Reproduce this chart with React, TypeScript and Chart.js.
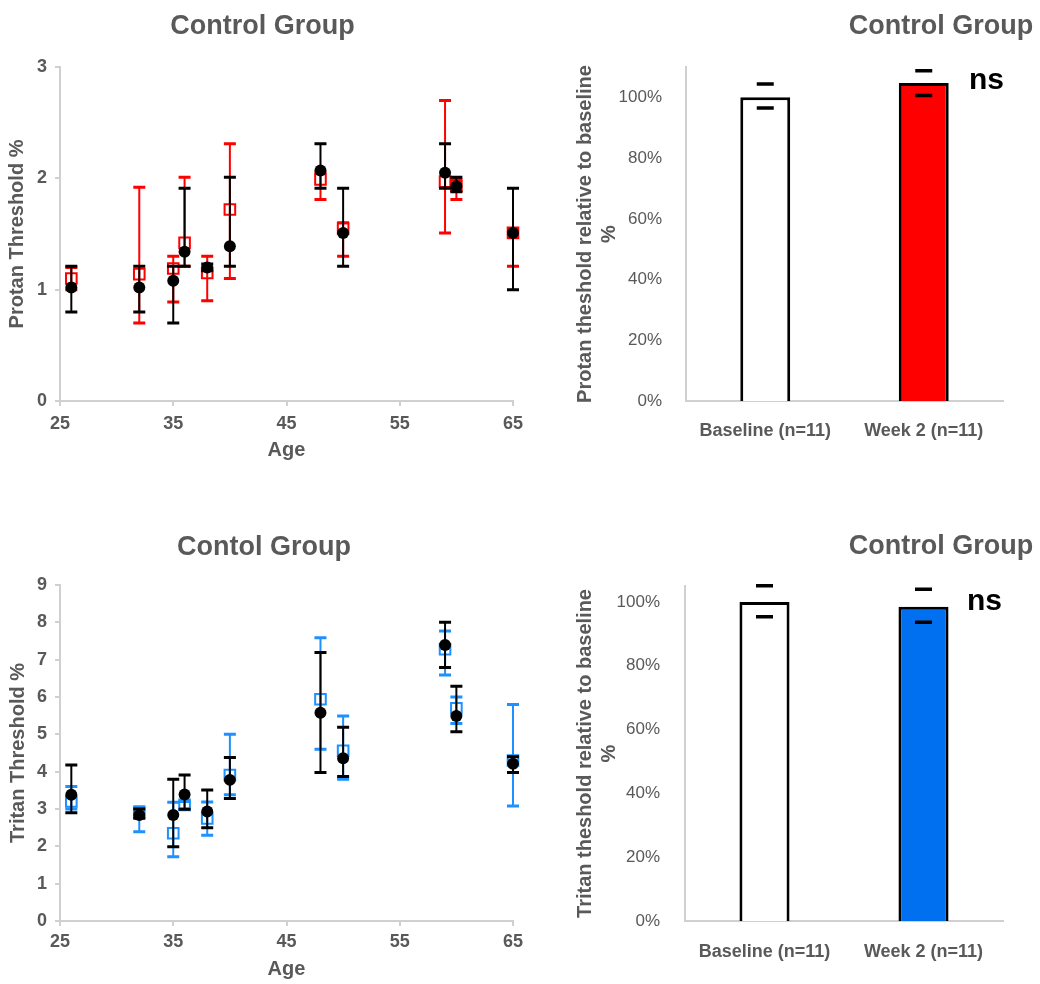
import React, { useEffect, useLayoutEffect, useRef } from 'react';
import { Chart, registerables } from 'chart.js';

Chart.register(...registerables);

const FONT = '"Liberation Sans", Arial, Helvetica, sans-serif';
const GRAY = '#595959';
const AXIS = '#D0D0D0';

// ---------- data ----------
const ages = [26, 32, 35, 36, 38, 40, 48, 50, 59, 60, 65];
const xTicks = [25, 35, 45, 55, 65];

const protanBaseline = [1.02, 1.02, 1.08, 1.34, 1.2, 1.39, 2.07, 1.51, 2.05, 1.93, 1.51];
const protanBaselineLow = [0.8, 0.8, 0.7, 1.21, 1.17, 1.21, 1.91, 1.21, 1.91, 1.88, 1.0];
const protanBaselineHigh = [1.21, 1.21, 1.21, 1.91, 1.23, 2.01, 2.31, 1.91, 2.31, 2.01, 1.91];
const protanWeek2 = [1.1, 1.14, 1.19, 1.42, 1.15, 1.72, 1.99, 1.55, 1.97, 1.93, 1.51];
const protanWeek2Low = [1.0, 0.7, 0.89, 1.21, 0.9, 1.1, 1.81, 1.3, 1.51, 1.81, 1.21];
const protanWeek2High = [1.2, 1.92, 1.3, 2.01, 1.3, 2.31, 2.05, 1.6, 2.7, 1.99, 1.55];
const protanYTicks = [0, 1, 2, 3];

const tritanBaseline = [3.38, 2.84, 2.84, 3.39, 2.93, 3.78, 5.58, 4.36, 7.39, 5.49, 4.21];
const tritanBaselineLow = [2.9, 2.75, 1.99, 2.99, 2.5, 3.28, 3.98, 3.87, 6.79, 5.07, 3.98];
const tritanBaselineHigh = [4.18, 3.0, 3.8, 3.91, 3.51, 4.38, 7.19, 5.19, 8.0, 6.29, 4.4];
const tritanWeek2 = [3.2, 2.9, 2.35, 3.11, 2.75, 3.91, 5.94, 4.56, 7.28, 5.7, 4.3];
const tritanWeek2Low = [3.0, 2.39, 1.72, 3.0, 2.3, 3.38, 4.6, 3.8, 6.59, 5.29, 3.08];
const tritanWeek2High = [3.6, 3.06, 3.18, 3.2, 3.19, 5.0, 7.59, 5.49, 7.77, 6.0, 5.8];
const tritanYTicks = [0, 1, 2, 3, 4, 5, 6, 7, 8, 9];

const barCategories = ['Baseline (n=11)', 'Week 2 (n=11)'];
const barYTicks = [0, 20, 40, 60, 80, 100];
const protanBars = [100, 104.7];
const protanBarsLow = [96.5, 100.6];
const protanBarsHigh = [104.4, 108.8];
const tritanBars = [100, 98.5];
const tritanBarsLow = [95.4, 93.6];
const tritanBarsHigh = [105.1, 104.0];

// ---------- plugins ----------
function drawErrors(chart: any, index: number) {
  const ds: any = chart.data.datasets[index];
  if (!ds.errLow || !ds.errHigh) return;
  const meta = chart.getDatasetMeta(index);
  const yScale = chart.scales[meta.yAxisID];
  const ctx = chart.ctx;
  ctx.save();
  ctx.strokeStyle = ds.errColor;
  ctx.lineCap = 'butt';
  meta.data.forEach((el: any, i: number) => {
    const x = el.x;
    const yl = yScale.getPixelForValue(ds.errLow[i]);
    const yh = yScale.getPixelForValue(ds.errHigh[i]);
    const half = ds.errCapWidth / 2;
    if (ds.errStem) {
      ctx.lineWidth = ds.errStemWidth;
      ctx.beginPath();
      ctx.moveTo(x, yl);
      ctx.lineTo(x, yh);
      ctx.stroke();
    }
    ctx.lineWidth = ds.errCapLine;
    ctx.beginPath();
    ctx.moveTo(x - half, yl);
    ctx.lineTo(x + half, yl);
    ctx.moveTo(x - half, yh);
    ctx.lineTo(x + half, yh);
    ctx.stroke();
  });
  ctx.restore();
}

const errorBarPlugin = {
  id: 'errorBars',
  beforeDatasetDraw(chart: any, args: any) {
    const ds: any = chart.data.datasets[args.index];
    if (!ds.errAfter) drawErrors(chart, args.index);
  },
  afterDatasetDraw(chart: any, args: any) {
    const ds: any = chart.data.datasets[args.index];
    if (ds.errAfter) drawErrors(chart, args.index);
  },
};

type TextItem = { text: string; x: number; y: number; font: string; color: string; align: CanvasTextAlign; baseline: CanvasTextBaseline };

function makeTextPlugin(items: TextItem[]) {
  return {
    id: 'panelText',
    afterDraw(chart: any) {
      const ctx = chart.ctx;
      ctx.save();
      items.forEach((it) => {
        ctx.font = it.font;
        ctx.fillStyle = it.color;
        ctx.textAlign = it.align;
        ctx.textBaseline = it.baseline;
        ctx.fillText(it.text, it.x, it.y);
      });
      ctx.restore();
    },
  };
}

const titleFont = `bold 27px ${FONT}`;
const nsFont = `bold 30px ${FONT}`;

// ---------- config builders ----------
function scatterConfig(opts: {
  title: string;
  titleX: number;
  titleY: number;
  yTitle: string;
  yMax: number;
  yTicks: number[];
  color: string;
  base: number[];
  baseLow: number[];
  baseHigh: number[];
  wk: number[];
  wkLow: number[];
  wkHigh: number[];
  padTop: number;
  xHeight: number;
  xTickPad: number;
  xTitlePad: number;
  yTitlePad: number;
}): any {
  return {
    type: 'scatter',
    data: {
      datasets: [
        {
          label: 'Baseline',
          data: ages.map((a, i) => ({ x: a, y: opts.base[i] })),
          pointStyle: 'circle',
          pointRadius: 6,
          pointHoverRadius: 6,
          backgroundColor: '#000000',
          borderColor: '#000000',
          borderWidth: 0,
          clip: false,
          errLow: opts.baseLow,
          errHigh: opts.baseHigh,
          errColor: '#000000',
          errCapWidth: 12,
          errCapLine: 3,
          errStemWidth: 2,
          errStem: true,
        },
        {
          label: 'Week 2',
          data: ages.map((a, i) => ({ x: a, y: opts.wk[i] })),
          pointStyle: 'rect',
          pointRadius: 7.5,
          pointHoverRadius: 7.5,
          backgroundColor: 'rgba(255,255,255,0)',
          borderColor: opts.color,
          borderWidth: 2,
          clip: false,
          errLow: opts.wkLow,
          errHigh: opts.wkHigh,
          errColor: opts.color,
          errCapWidth: 12,
          errCapLine: 3,
          errStemWidth: 2,
          errStem: true,
        },
      ],
    },
    options: {
      animation: false,
      responsive: false,
      events: [],
      layout: { padding: { top: opts.padTop, right: 27, bottom: 0, left: 0 } },
      plugins: { legend: { display: false }, tooltip: { enabled: false }, title: { display: false } },
      scales: {
        x: {
          type: 'linear',
          min: 25,
          max: 65,
          afterBuildTicks: (s: any) => {
            s.ticks = xTicks.map((v) => ({ value: v }));
          },
          afterFit: (s: any) => {
            s.height = opts.xHeight;
          },
          grid: { display: true, drawOnChartArea: false, drawTicks: true, tickLength: 5, color: AXIS, lineWidth: 2 },
          border: { display: true, color: AXIS, width: 2 },
          ticks: { color: GRAY, font: { family: FONT, size: 18, weight: 'bold' }, padding: opts.xTickPad, maxRotation: 0, autoSkip: false },
          title: { display: true, text: 'Age', color: GRAY, font: { family: FONT, size: 20, weight: 'bold' }, padding: { top: 0, bottom: opts.xTitlePad } },
        },
        y: {
          type: 'linear',
          min: 0,
          max: opts.yMax,
          afterBuildTicks: (s: any) => {
            s.ticks = opts.yTicks.map((v) => ({ value: v }));
          },
          afterFit: (s: any) => {
            s.width = 60;
          },
          grid: { display: true, drawOnChartArea: false, drawTicks: true, tickLength: 5, color: AXIS, lineWidth: 2 },
          border: { display: true, color: AXIS, width: 2 },
          ticks: { color: GRAY, font: { family: FONT, size: 18, weight: 'bold' }, padding: 8 },
          title: { display: true, text: opts.yTitle, color: GRAY, font: { family: FONT, size: 20, weight: 'bold' }, padding: { top: opts.yTitlePad, bottom: 0 } },
        },
      },
    },
    plugins: [
      errorBarPlugin,
      makeTextPlugin([
        { text: opts.title, x: opts.titleX, y: opts.titleY, font: titleFont, color: GRAY, align: 'center', baseline: 'middle' },
      ]),
    ],
  };
}

function barConfig(opts: {
  title: string;
  titleX: number;
  titleY: number;
  nsX: number;
  nsY: number;
  yTitle: string[];
  yMax: number;
  color: string;
  values: number[];
  low: number[];
  high: number[];
  padTop: number;
  yWidth: number;
  xHeight: number;
  xTickPad: number;
  yTickPad: number;
}): any {
  return {
    type: 'bar',
    data: {
      labels: barCategories,
      datasets: [
        {
          label: 'Relative threshold',
          data: opts.values,
          backgroundColor: ['#FFFFFF', opts.color],
          borderColor: '#000000',
          borderWidth: 3,
          borderSkipped: 'start',
          barPercentage: 0.315,
          categoryPercentage: 1,
          errLow: opts.low,
          errHigh: opts.high,
          errColor: '#000000',
          errCapWidth: 17,
          errCapLine: 3.5,
          errStem: false,
          errAfter: true,
        },
      ],
    },
    options: {
      animation: false,
      responsive: false,
      events: [],
      layout: { padding: { top: opts.padTop, right: 37, bottom: 0, left: 0 } },
      plugins: { legend: { display: false }, tooltip: { enabled: false }, title: { display: false } },
      scales: {
        x: {
          type: 'category',
          afterFit: (s: any) => {
            s.height = opts.xHeight;
          },
          grid: { display: false },
          border: { display: true, color: AXIS, width: 2 },
          ticks: { color: GRAY, font: { family: FONT, size: 18, weight: 'bold' }, padding: opts.xTickPad, maxRotation: 0, autoSkip: false },
        },
        y: {
          type: 'linear',
          min: 0,
          max: opts.yMax,
          afterBuildTicks: (s: any) => {
            s.ticks = barYTicks.map((v) => ({ value: v }));
          },
          afterFit: (s: any) => {
            s.width = opts.yWidth;
          },
          grid: { display: false },
          border: { display: true, color: AXIS, width: 2 },
          ticks: { color: GRAY, font: { family: FONT, size: 17 }, padding: opts.yTickPad, callback: (v: any) => `${v}%` },
          title: { display: true, text: opts.yTitle, color: GRAY, font: { family: FONT, size: 20, weight: 'bold' }, padding: { top: 33, bottom: 0 } },
        },
      },
    },
    plugins: [
      errorBarPlugin,
      makeTextPlugin([
        { text: opts.title, x: opts.titleX, y: opts.titleY, font: titleFont, color: GRAY, align: 'center', baseline: 'middle' },
        { text: 'ns', x: opts.nsX, y: opts.nsY, font: nsFont, color: '#000000', align: 'left', baseline: 'alphabetic' },
      ]),
    ],
  };
}

// ---------- components ----------
function ChartPanel(props: { left: number; top: number; width: number; height: number; makeConfig: () => any }) {
  const ref = useRef<HTMLCanvasElement>(null);
  useEffect(() => {
    const chart = new Chart(ref.current as HTMLCanvasElement, props.makeConfig());
    return () => chart.destroy();
  }, []);
  return (
    <div style={{ position: 'absolute', left: props.left, top: props.top, width: props.width, height: props.height }}>
      <canvas ref={ref} width={props.width} height={props.height} style={{ display: 'block', width: props.width, height: props.height }} />
    </div>
  );
}

export default function App() {
  useLayoutEffect(() => {
    document.body.style.margin = '0';
    const root = document.getElementById('root');
    if (root) {
      root.style.width = '1040px';
      root.style.height = '984px';
    }
  }, []);
  return (
    <div style={{ position: 'relative', width: 1040, height: 984, fontFamily: FONT }}>
      <ChartPanel
        left={0}
        top={0}
        width={540}
        height={475}
        makeConfig={() =>
          scatterConfig({
            title: 'Control Group',
            titleX: 262.5,
            titleY: 27,
            yTitle: 'Protan Threshold %',
            yMax: 3,
            yTicks: protanYTicks,
            color: '#FF0000',
            base: protanBaseline,
            baseLow: protanBaselineLow,
            baseHigh: protanBaselineHigh,
            wk: protanWeek2,
            wkLow: protanWeek2Low,
            wkHigh: protanWeek2High,
            padTop: 67,
            xHeight: 74,
            xTickPad: 7,
            xTitlePad: 13,
            yTitlePad: 5.5,
          })
        }
      />
      <ChartPanel
        left={540}
        top={0}
        width={500}
        height={475}
        makeConfig={() =>
          barConfig({
            title: 'Control Group',
            titleX: 401,
            titleY: 27,
            nsX: 429,
            nsY: 89,
            yTitle: ['Protan theshold relative to baseline', '%'],
            yMax: 110,
            color: '#FF0000',
            values: protanBars,
            low: protanBarsLow,
            high: protanBarsHigh,
            padTop: 67,
            yWidth: 146,
            xHeight: 74,
            xTickPad: 11,
            yTickPad: 16,
          })
        }
      />
      <ChartPanel
        left={0}
        top={500}
        width={540}
        height={484}
        makeConfig={() =>
          scatterConfig({
            title: 'Contol Group',
            titleX: 264,
            titleY: 48,
            yTitle: 'Tritan Threshold %',
            yMax: 9,
            yTicks: tritanYTicks,
            color: '#1E90FF',
            base: tritanBaseline,
            baseLow: tritanBaselineLow,
            baseHigh: tritanBaselineHigh,
            wk: tritanWeek2,
            wkLow: tritanWeek2Low,
            wkHigh: tritanWeek2High,
            padTop: 85,
            xHeight: 63,
            xTickPad: 5,
            xTitlePad: 3,
            yTitlePad: 6.5,
          })
        }
      />
      <ChartPanel
        left={540}
        top={500}
        width={500}
        height={484}
        makeConfig={() =>
          barConfig({
            title: 'Control Group',
            titleX: 401,
            titleY: 47,
            nsX: 427,
            nsY: 110,
            yTitle: ['Tritan theshold relative to baseline', '%'],
            yMax: 105,
            color: '#0070F0',
            values: tritanBars,
            low: tritanBarsLow,
            high: tritanBarsHigh,
            padTop: 86,
            yWidth: 145,
            xHeight: 63,
            xTickPad: 12,
            yTickPad: 17,
          })
        }
      />
    </div>
  );
}
